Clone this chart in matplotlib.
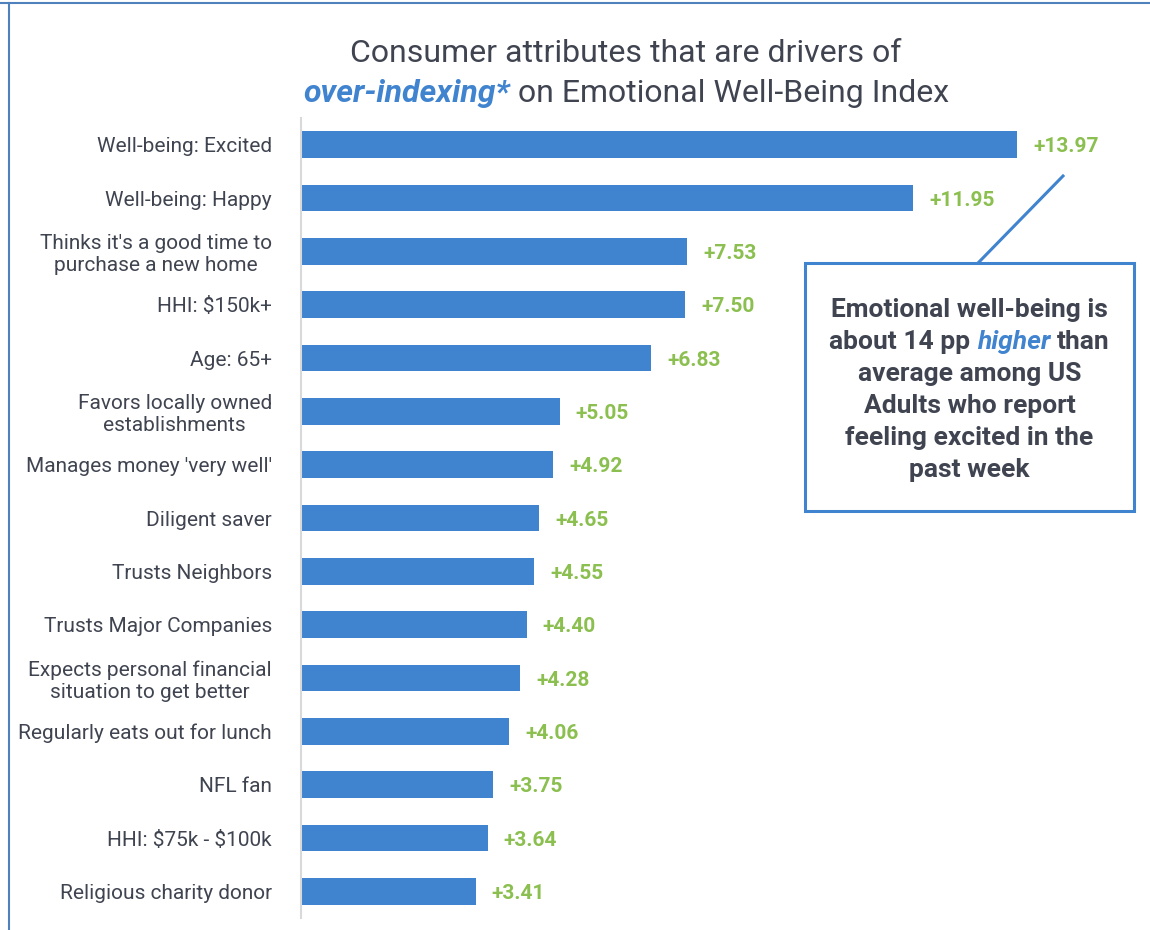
import matplotlib
matplotlib.use("Agg")
import matplotlib.pyplot as plt
from matplotlib.patches import Rectangle
from matplotlib.lines import Line2D

plt.rcParams['font.family'] = ['Roboto', 'DejaVu Sans']

labels = [
    "Well-being: Excited",
    "Well-being: Happy",
    "Thinks it's a good time to\npurchase a new home",
    "HHI: \\$150k+",
    "Age: 65+",
    "Favors locally owned\nestablishments",
    "Manages money 'very well'",
    "Diligent saver",
    "Trusts Neighbors",
    "Trusts Major Companies",
    "Expects personal financial\nsituation to get better",
    "Regularly eats out for lunch",
    "NFL fan",
    "HHI: \\$75k - \\$100k",
    "Religious charity donor",
]
values = [13.97, 11.95, 7.53, 7.50, 6.83, 5.05, 4.92, 4.65, 4.55, 4.40,
          4.28, 4.06, 3.75, 3.64, 3.41]

title_line1 = "Consumer attributes that are drivers of"
title_em = "over-indexing*"
title_rest = "on Emotional Well-Being Index"

callout_lines = [
    [("Emotional well-being is", False)],
    [("about 14 pp", False), ("higher", True), ("than", False)],
    [("average among US", False)],
    [("Adults who report", False)],
    [("feeling excited in the", False)],
    [("past week", False)],
]

BLUE = "#4083CF"
GREEN = "#8BBF4F"
DARK = "#3F4450"
W, H = 1150, 930

fig = plt.figure(figsize=(W / 100, H / 100), dpi=100)
ax = fig.add_axes([301 / W, 1 - 918 / H, 820 / W, 800 / H])

ypos = list(range(len(labels)))
ax.barh(ypos, values, height=0.5, color=BLUE)
ax.set_xlim(0, 16)
ax.set_ylim(len(labels) - 0.5, -0.5)

for y, v in zip(ypos, values):
    ax.annotate(f"+{v:.2f}", (v, y), xytext=(11.5, 0), textcoords="offset points",
                ha="left", va="center_baseline", fontsize=15, fontweight="bold",
                color=GREEN)

ax.set_yticks(ypos)
ax.set_yticklabels(labels, fontsize=15, color=DARK, multialignment="center")
ax.tick_params(axis="y", length=0, pad=21)
ax.set_xticks([])
for side in ["top", "right", "bottom"]:
    ax.spines[side].set_visible(False)
ax.spines["left"].set_color("#D9D9D9")
ax.spines["left"].set_linewidth(1.5)

# outer frame: only the top and left edges are visible
fig.add_artist(Line2D([0, 1], [1 - 3 / H, 1 - 3 / H], color="#4F81BD", lw=1.5))
fig.add_artist(Line2D([9 / W, 9 / W], [0, 1 - 3 / H], color="#4F81BD", lw=1.5))

renderer = fig.canvas.get_renderer()


def text_width(s, **kw):
    t = fig.text(0, 0, s, **kw)
    w = t.get_window_extent(renderer).width
    t.remove()
    return w


def draw_runs(runs, cx, cy, **kw):
    # lay out differently styled pieces on one centred line (pixel coords)
    widths = [text_width(s, **kw, **p) for s, p in runs]
    gap = text_width("a a", **kw) - text_width("aa", **kw)
    x = cx - (sum(widths) + gap * (len(runs) - 1)) / 2
    for (s, p), w in zip(runs, widths):
        fig.text(x / W, 1 - cy / H, s, ha="left", va="baseline", **kw, **p)
        x += w + gap


# title
fig.text(626 / W, 1 - 62 / H, title_line1, ha="center", va="baseline",
         fontsize=23, color=DARK)
draw_runs([(title_em, dict(color=BLUE, fontweight="bold", fontstyle="italic")),
           (title_rest, dict(color=DARK))],
          626, 102, fontsize=23)

# callout box with connector to the top bar
fig.add_artist(Rectangle((805 / W, 1 - 511 / H), 329 / W, 248 / H, fill=False,
                         edgecolor=BLUE, lw=2.2, transform=fig.transFigure))
fig.add_artist(Line2D([979 / W, 1063 / W], [1 - 262 / H, 1 - 176 / H],
                      color=BLUE, lw=2.2))

for i, line in enumerate(callout_lines):
    runs = []
    for s, em in line:
        if em:
            runs.append((s, dict(color=BLUE, fontstyle="italic")))
        else:
            runs.append((s, dict(color=DARK)))
    draw_runs(runs, 969.5, 317 + i * 32, fontsize=19, fontweight="bold")

fig.savefig("out.png", dpi=100)
